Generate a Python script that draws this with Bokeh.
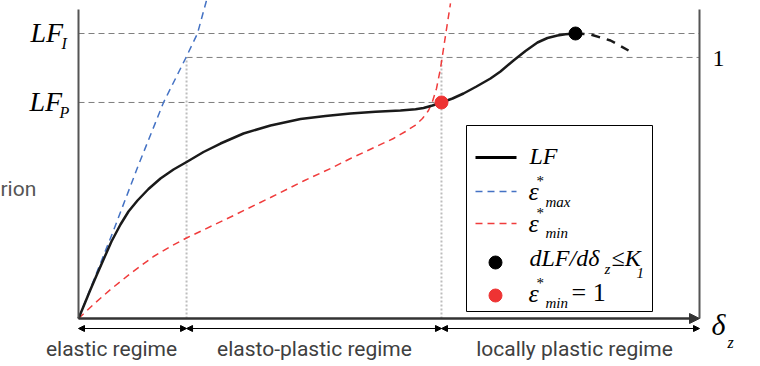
from bokeh.plotting import figure
from bokeh.models import Range1d, Arrow, NormalHead
from bokeh.core.properties import value
from bokeh.embed import file_html
from bokeh.resources import INLINE

# ---------------- data (normalised units: LF_I = 1, right axis = 1) ----------------
LF_I = 1.0
LF_P = 0.758
ONE_LEVEL = 0.916
X_ELASTIC = 0.174
X_PLASTIC = 0.5845
X_END = 1.0
Y_TOP = 1.084

lf_x = [0, 0.0097, 0.0193, 0.0290, 0.0403, 0.0531, 0.0676, 0.0805, 0.0950, 0.1127,
        0.1320, 0.1530, 0.1755, 0.2013, 0.2287, 0.2657, 0.3092, 0.3575, 0.3977, 0.4380,
        0.4783, 0.5185, 0.5427, 0.5556, 0.5700, 0.5845, 0.6023, 0.6200, 0.6409, 0.6634,
        0.6795, 0.7005, 0.7198, 0.7391, 0.7552, 0.7713, 0.7842, 0.8003]
lf_y = [0, 0.0509, 0.1018, 0.1509, 0.2070, 0.2702, 0.3298, 0.3754, 0.4140, 0.4544,
        0.4912, 0.5228, 0.5509, 0.5842, 0.6140, 0.6491, 0.6772, 0.7000, 0.7105, 0.7193,
        0.7253, 0.7298, 0.7344, 0.7386, 0.7474, 0.7579, 0.7719, 0.7895, 0.8140, 0.8421,
        0.8667, 0.9053, 0.9386, 0.9684, 0.9842, 0.9930, 0.9972, 1.0]

lf_post_x = [0.8003, 0.8245, 0.8567, 0.8857]
lf_post_y = [1.0, 0.9965, 0.9754, 0.9404]

emax_x = [0, 0.0564, 0.0950, 0.1369, 0.1723, 0.1916, 0.2061]
emax_y = [0, 0.3088, 0.5298, 0.7579, 0.9123, 1.0, 1.1158]

emin_x = [0, 0.0258, 0.0515, 0.0837, 0.1208, 0.1481, 0.1739, 0.2448, 0.3092, 0.3623,
          0.4058, 0.4380, 0.5072, 0.5266, 0.5427, 0.5539, 0.5636, 0.5700, 0.5765, 0.5829,
          0.5910, 0.5990]
emin_y = [0, 0.0526, 0.1018, 0.1579, 0.2175, 0.2526, 0.2825, 0.3561, 0.4246, 0.4825,
          0.5263, 0.5614, 0.6316, 0.6561, 0.6789, 0.7018, 0.7298, 0.7614, 0.8070, 0.8772,
          0.9930, 1.1053]

peak_pt = (0.8003, 1.0)
plastic_pt = (0.5845, 0.758)

regime_labels = ["elastic regime", "elasto-plastic regime", "locally plastic regime"]

# ---------------- layout helpers (picture pixel -> data) ----------------
def X(px):
    return (px - 78) / 621.0

def Y(py):
    return (318 - py) / 285.0

W, H = 752, 362
SERIF = value("Liberation Serif")
SANS = value("Roboto")

p = figure(width=W, height=H, x_range=Range1d(X(0), X(W)), y_range=Range1d(Y(H), Y(0)),
           output_backend="svg", toolbar_location=None, min_border=0,
           x_axis_location=None, y_axis_location=None)
p.grid.visible = False
p.outline_line_color = None
p.background_fill_color = "white"

# guides
p.segment(x0=[0, X_ELASTIC, 0], y0=[LF_I, ONE_LEVEL, LF_P],
          x1=[X_END, X_END, X_PLASTIC], y1=[LF_I, ONE_LEVEL, LF_P],
          line_color="#7f7f7f", line_width=1, line_dash="6 4")
p.segment(x0=[X_ELASTIC, X_PLASTIC], y0=[0, 0], x1=[X_ELASTIC, X_PLASTIC], y1=[ONE_LEVEL, ONE_LEVEL],
          line_color="#bdbdbd", line_width=2, line_dash="2 2")

# curves
p.line(emax_x, emax_y, line_color="#4472C4", line_width=1.5, line_dash="7 5")
p.line(emin_x, emin_y, line_color="#F03C3C", line_width=1.5, line_dash="7 5")
p.line(lf_x, lf_y, line_color="#1a1a1a", line_width=2.5, line_join="round")
p.line(lf_post_x, lf_post_y, line_color="#1a1a1a", line_width=2.5, line_dash="9 7")
p.scatter([plastic_pt[0]], [plastic_pt[1]], size=13, color="#EE3333")
p.scatter([peak_pt[0]], [peak_pt[1]], size=13, color="black")

# axes
p.segment(x0=[0, X_END], y0=[0, 0], x1=[0, X_END], y1=[Y_TOP, Y_TOP], line_color="#555555", line_width=2)
p.add_layout(Arrow(end=NormalHead(size=10, fill_color="#333333", line_color="#333333"),
                   x_start=0, y_start=0, x_end=X_END, y_end=0, line_width=2.5, line_color="#333333"))

# regimes
bounds = [0, X_ELASTIC, X_PLASTIC, X_END]
yr = Y(328)
for a, b in zip(bounds[:-1], bounds[1:]):
    p.add_layout(Arrow(start=NormalHead(size=6, fill_color="black", line_color="black"),
                       end=NormalHead(size=6, fill_color="black", line_color="black"),
                       x_start=a, y_start=yr, x_end=b, y_end=yr, line_width=1, line_color="black"))
p.text(x=[X(111), X(314), X(574)], y=[Y(348)] * 3, text=regime_labels,
       text_font=SANS, text_font_size="21px", text_color="#404040", text_align="center", text_baseline="middle")

p.text(x=[X(0)], y=[Y(188)], text=["rion"], text_font=SANS, text_font_size="21px",
       text_color="#555555", text_align="left", text_baseline="middle")


def label(px, py, s, size, italic=True, align="left", font=SERIF):
    p.text(x=[X(px)], y=[Y(py)], text=[s], text_font=font, text_font_size=f"{size}px",
           text_font_style="italic" if italic else "normal", text_color="black",
           text_align=align, text_baseline="middle")

# axis labels
label(30, 32, "LF", 28)
label(61, 43, "I", 16)
label(29, 101, "LF", 28)
label(59, 112, "P", 16)
label(712, 58, "1", 24, italic=False)
label(711, 324, "δ", 30)
label(727, 342, "z", 16)

# legend
p.quad(left=[X(466)], right=[X(652)], top=[Y(125)], bottom=[Y(311)],
       fill_color="white", line_color="black", line_width=1)
p.segment(x0=[X(475)], y0=[Y(157)], x1=[X(516)], y1=[Y(157)], line_color="black", line_width=3)
p.segment(x0=[X(475)], y0=[Y(191)], x1=[X(516)], y1=[Y(191)], line_color="#4472C4", line_width=1.5, line_dash="7 5")
p.segment(x0=[X(475)], y0=[Y(223)], x1=[X(516)], y1=[Y(223)], line_color="#F03C3C", line_width=1.5, line_dash="7 5")
p.scatter([X(495)], [Y(262)], size=13, color="black")
p.scatter([X(495)], [Y(295)], size=13, color="#EE3333")

label(529, 155, "LF", 24)
label(528, 191, "ε", 26)
label(536, 180, "*", 15, italic=False)
label(545, 201, "max", 15)
label(528, 223, "ε", 26)
label(536, 212, "*", 15, italic=False)
label(545, 232, "min", 15)
label(529, 257, "dLF/dδ", 24)
label(604, 268, "z", 15)
label(611, 257, "≤K", 24)
label(636, 272, "1", 15)
label(528, 293, "ε", 26)
label(536, 282, "*", 15, italic=False)
label(545, 302, "min", 15)
label(571, 292, "= 1", 26, italic=False)

open("out.html", "w").write(file_html(p, INLINE))
